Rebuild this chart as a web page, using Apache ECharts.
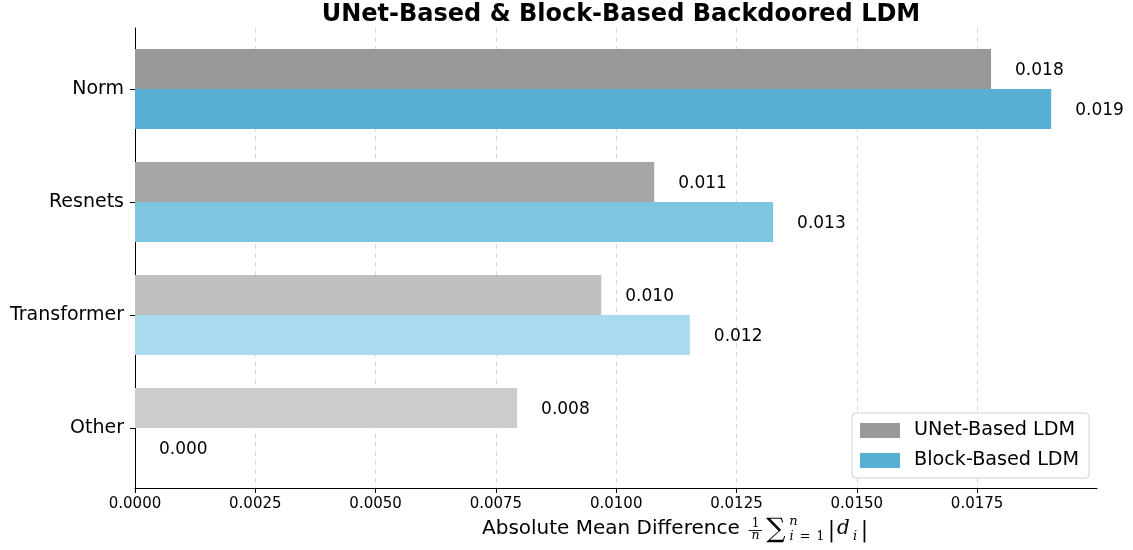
<!DOCTYPE html>
<html>
<head>
<meta charset="utf-8">
<script src="https://cdn.jsdelivr.net/npm/echarts@6/dist/echarts.min.js"></script>
<style>
html,body{margin:0;padding:0;background:#fff;}
#chart{width:1133px;height:550px;}
</style>
</head>
<body>
<div id="chart"></div>
<script>
// ---- data ----
const categories = ['Norm', 'Resnets', 'Transformer', 'Other'];
const unetValues = [0.01779, 0.01079, 0.00969, 0.00794];
const blockValues = [0.01904, 0.01326, 0.01153, 0.0];
const seriesNames = ['UNet-Based LDM', 'Block-Based LDM'];
const xTickValues = [0, 0.0025, 0.005, 0.0075, 0.01, 0.0125, 0.015, 0.0175];
const titleText = 'UNet-Based & Block-Based Backdoored LDM';
const xTitleText = 'Absolute Mean Difference';

// ---- styles ----
const unetColors = ['#999999', '#a6a6a6', '#bfbfbf', '#cccccc'];
const blockColors = ['#57afd3', '#7fc5e0', '#a9dbef', '#d4edf7'];
const xMax = Math.max(...blockValues, ...unetValues) * 1.05;
const FONT = 'DejaVu Sans';
const SERIF = 'DejaVu Serif';

const chart = echarts.init(document.getElementById('chart'));

function mk(values, colors) {
  return values.map((v, i) => ({ value: v, itemStyle: { color: colors[i] } }));
}
const labelCfg = {
  show: true, position: 'right', distance: 24, offset: [0, 1.5],
  color: '#000', fontFamily: FONT, fontSize: 17,
  formatter: p => Number(p.value).toFixed(3)
};

function t(text, x, y, size, opts) {
  opts = opts || {};
  return {
    type: 'text', x: x, y: y, silent: true,
    style: {
      text: text,
      fill: '#000',
      font: (opts.style || '') + ' ' + size + 'px "' + (opts.family || SERIF) + '"',
      textAlign: opts.align || 'center', align: opts.align || 'center',
      textVerticalAlign: 'middle', verticalAlign: 'middle'
    }
  };
}

const option = {
  animation: false,
  backgroundColor: '#fff',
  title: {
    text: titleText, left: 616, top: -2, textAlign: 'center',
    textStyle: { fontFamily: FONT, fontWeight: 'bold', fontSize: 24, color: '#000' }
  },
  legend: {
    orient: 'vertical', left: 852, top: 413,
    data: [
      { name: seriesNames[0], itemStyle: { color: unetColors[0] } },
      { name: seriesNames[1], itemStyle: { color: blockColors[0] } }
    ],
    icon: 'rect', itemWidth: 40, itemHeight: 15, itemGap: 11,
    padding: [8, 10, 8, 8],
    backgroundColor: '#fff', borderColor: '#d0d0d0', borderWidth: 1, borderRadius: 4,
    selectedMode: false,
    textStyle: { fontFamily: FONT, fontSize: 19.2, color: '#000', padding: [0, 0, 0, 9] }
  },
  grid: [
    { left: 135, right: 36, top: 28, bottom: 62 },
    { left: 135, right: 36, top: 32.5, bottom: 65.5 }
  ],
  xAxis: [
    {
      gridIndex: 0, type: 'value', min: 0, max: xMax,
      axisLine: { show: true, lineStyle: { color: '#000', width: 1 } },
      axisTick: { show: true, customValues: xTickValues, length: 5, lineStyle: { color: '#000' } },
      axisLabel: {
        show: true, customValues: xTickValues, margin: 9,
        fontFamily: FONT, fontSize: 15, color: '#000',
        formatter: v => Number(v).toFixed(4)
      },
      splitLine: { show: true, lineStyle: { color: '#d8d8d8', type: [5, 4], width: 1 } }
    },
    {
      gridIndex: 1, type: 'value', min: 0, max: xMax, show: false
    }
  ],
  yAxis: [
    {
      gridIndex: 0, type: 'value', min: 0, max: 1,
      axisLine: { show: true, lineStyle: { color: '#000', width: 1 } },
      axisTick: { show: false }, axisLabel: { show: false }, splitLine: { show: false }
    },
    {
      gridIndex: 1, type: 'category', data: categories, inverse: true,
      axisLine: { show: false },
      axisTick: { show: true, alignWithLabel: true, length: 5, lineStyle: { color: '#000' } },
      axisLabel: { margin: 11, fontFamily: FONT, fontSize: 19, color: '#000', padding: [2, 0, 0, 0] },
      splitLine: { show: false }
    }
  ],
  series: [
    {
      name: seriesNames[0], type: 'bar', xAxisIndex: 1, yAxisIndex: 1,
      data: mk(unetValues, unetColors), barWidth: 40, barGap: '0%',
      label: labelCfg
    },
    {
      name: seriesNames[1], type: 'bar', xAxisIndex: 1, yAxisIndex: 1,
      data: mk(blockValues, blockColors), barWidth: 40, barGap: '0%',
      label: labelCfg
    }
  ],
  graphic: [
    t(xTitleText, 482, 529, 20, { family: FONT, align: 'left' }),
    t('1', 755.5, 523.5, 12),
    { type: 'line', silent: true, shape: { x1: 748.5, y1: 530.5, x2: 762, y2: 530.5 }, style: { stroke: '#000', lineWidth: 0.9 } },
    t('n', 755.5, 536, 12.5, { style: 'italic' }),
    t('\u2211', 776, 530, 27),
    t('n', 793.5, 521.5, 13, { style: 'italic' }),
    t('i', 789.5, 536.5, 13, { style: 'italic', align: 'left' }),
    t('=', 805, 536.5, 13),
    t('1', 820.5, 536.5, 13),
    t('|', 831.5, 531, 22),
    t('d', 843.5, 528.5, 20, { style: 'italic' }),
    t('i', 855, 537, 13, { style: 'italic' }),
    t('|', 864.5, 531, 22)
  ]
};
chart.setOption(option);
</script>
</body>
</html>
